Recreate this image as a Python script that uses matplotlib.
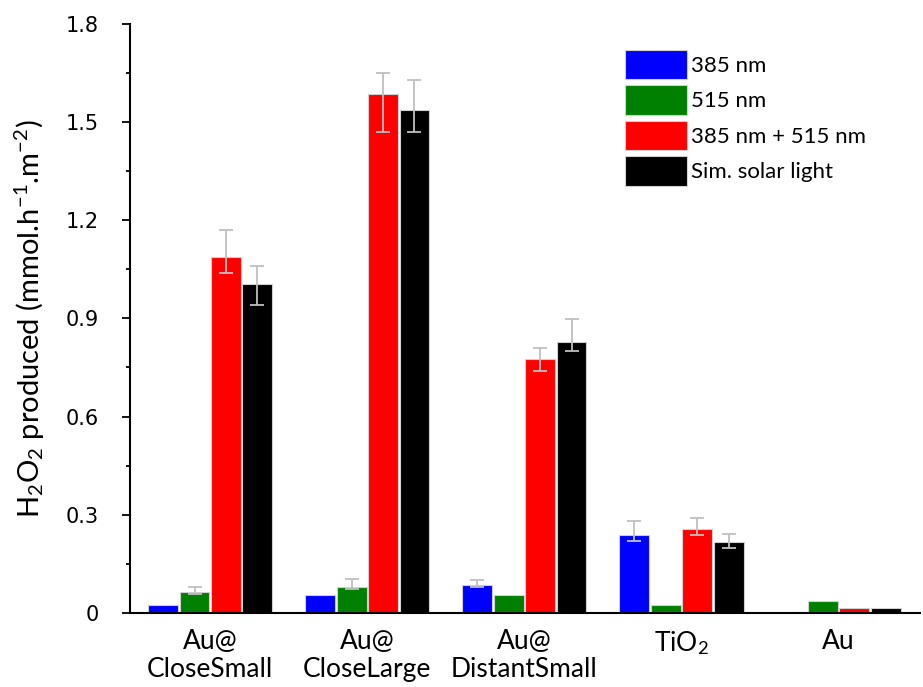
import matplotlib
matplotlib.use("Agg")
import matplotlib.pyplot as plt
import numpy as np
from matplotlib.ticker import MultipleLocator, FixedLocator

plt.rcParams['mathtext.fontset'] = 'custom'
plt.rcParams['mathtext.rm'] = 'Lato'
plt.rcParams['mathtext.it'] = 'Lato:italic'

categories = ["Au@\nCloseSmall", "Au@\nCloseLarge", "Au@\nDistantSmall", "TiO$_2$", "Au"]
series_names = ["385 nm", "515 nm", "385 nm + 515 nm", "Sim. solar light"]
colors = ["#0000FF", "#008000", "#FF0000", "#000000"]

v385 = [0.024, 0.055, 0.085, 0.237, 0.0]
v515 = [0.064, 0.080, 0.055, 0.024, 0.036]
vmix = [1.087, 1.587, 0.776, 0.256, 0.016]
vsol = [1.006, 1.537, 0.827, 0.216, 0.016]

# asymmetric error extents (lower, upper); None = no error bar
e385_lo = [None, None, 0.007, 0.019, None]
e385_hi = [None, None, 0.015, 0.043, None]
e515_lo = [0.007, 0.007, None, None, None]
e515_hi = [0.014, 0.024, None, None, None]
emix_lo = [0.048, 0.117, 0.036, 0.017, None]
emix_hi = [0.082, 0.063, 0.034, 0.034, None]
esol_lo = [0.066, 0.067, 0.027, 0.017, None]
esol_hi = [0.053, 0.093, 0.072, 0.024, None]

values = [v385, v515, vmix, vsol]
err_lo = [e385_lo, e515_lo, emix_lo, esol_lo]
err_hi = [e385_hi, e515_hi, emix_hi, esol_hi]

fig = plt.figure(figsize=(9.23, 6.87), dpi=100)
ax = fig.add_axes([0.141, 0.108, 0.856, 0.857])

x = np.arange(len(categories))
width = 0.19
offsets = [-0.3, -0.1, 0.1, 0.3]
for i in range(4):
    xs = x + offsets[i]
    ax.bar(xs, values[i], width, color=colors[i], edgecolor="#D0D0D0",
           linewidth=0.8, label=series_names[i], zorder=2)
    for j in range(len(categories)):
        if err_lo[i][j] is not None:
            ax.errorbar(xs[j], values[i][j],
                        yerr=[[err_lo[i][j]], [err_hi[i][j]]],
                        fmt='none', ecolor="#BFBFBF", elinewidth=1.3,
                        capsize=5, capthick=1.3, zorder=3)

ax.set_xlim(-0.51, 4.52)
ax.set_ylim(0, 1.8)
ax.yaxis.set_major_locator(FixedLocator([0, 0.3, 0.6, 0.9, 1.2, 1.5, 1.8]))
ax.set_yticklabels(["0", "0.3", "0.6", "0.9", "1.2", "1.5", "1.8"],
                   fontsize=15, family="DejaVu Sans")
ax.yaxis.set_minor_locator(MultipleLocator(0.15))
ax.tick_params(axis='y', which='major', direction='out', length=5.8, width=1.3, pad=17)
ax.tick_params(axis='y', which='minor', direction='out', length=2.9, width=1.3)
ax.set_xticks(x)
ax.set_xticklabels(categories, fontsize=19, family="Lato", linespacing=1.12)
ax.tick_params(axis='x', length=0, pad=12)

for s in ["top", "right"]:
    ax.spines[s].set_visible(False)
ax.spines["left"].set_linewidth(1.5)
ax.spines["bottom"].set_linewidth(1.5)

ax.set_ylabel("H$_2$O$_2$ produced (mmol.h$^{-1}$.m$^{-2}$)", fontsize=21,
              family="Lato", labelpad=13)

leg = ax.legend(loc="upper left", bbox_to_anchor=(0.601, 0.99), frameon=False,
                prop={"family": "Lato", "size": 16},
                handlelength=2.8, handleheight=1.65, handletextpad=0.15,
                labelspacing=0.28)

fig.savefig("out.png", dpi=100)
